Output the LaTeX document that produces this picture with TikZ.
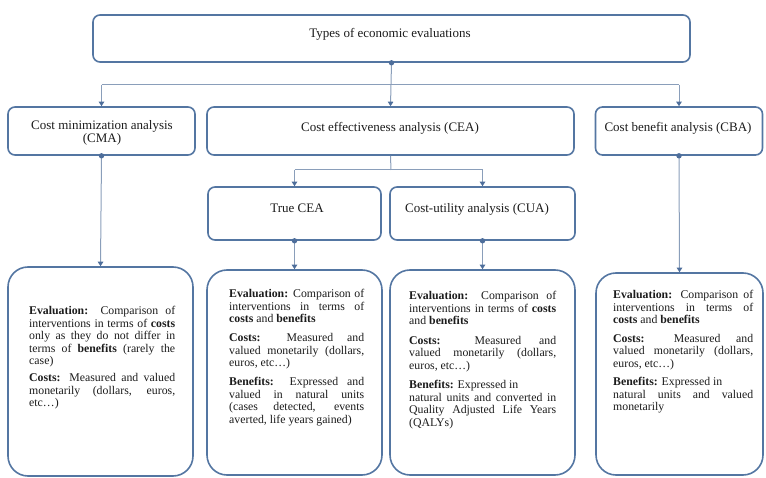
\documentclass[tikz,border=0pt]{standalone}
\usepackage{fontspec}
\setmainfont{Liberation Serif}
\usetikzlibrary{arrows.meta}
\definecolor{boxc}{RGB}{84,118,162}
\definecolor{connc}{RGB}{138,158,186}
\definecolor{tipc}{RGB}{78,110,155}
\definecolor{txtc}{RGB}{28,28,28}
\newcommand\mybody{\fontsize{11.8}{12.5}\selectfont\tolerance=10000\hyphenpenalty=10000\relax}
\tikzset{
  hbox/.style={draw=boxc, line width=1.6pt, rounded corners=7pt, fill=white, inner sep=0pt},
  bbox/.style={draw=boxc, line width=1.6pt, rounded corners=20pt, fill=white, inner sep=0pt},
  title/.style={text=txtc, font=\fontsize{13}{12.5}\selectfont, inner sep=0pt, anchor=base},
  body/.style={text=txtc, inner sep=0pt, anchor=base west},
  conn/.style={draw=connc, line width=1pt},
  arr/.style={conn, -{Triangle[width=5.5pt,length=4.5pt,color=tipc]}},
  dotc/.style={fill=tipc}
}
\begin{document}
\begin{tikzpicture}[x=1pt,y=-1pt]
\useasboundingbox (0,0) rectangle (766,478);
% boxes
\node[hbox, minimum width=597pt, minimum height=47pt] (top) at (391.5,38.5) {};
\node[hbox, minimum width=187pt, minimum height=48pt] (cma) at (101.5,131) {};
\node[hbox, minimum width=367pt, minimum height=48pt] (cea) at (390.5,131) {};
\node[hbox, minimum width=167pt, minimum height=48pt] (cba) at (679,131) {};
\node[hbox, minimum width=173pt, minimum height=53pt] (tcea) at (294.5,213.5) {};
\node[hbox, minimum width=185pt, minimum height=53pt] (cua) at (482.5,213.5) {};
\node[bbox, minimum width=185pt, minimum height=209pt] (b1) at (100.5,371.5) {};
\node[bbox, minimum width=175pt, minimum height=205pt] (b2) at (294.5,372.5) {};
\node[bbox, minimum width=185pt, minimum height=205pt] (b3) at (482.5,372.5) {};
\node[bbox, minimum width=167pt, minimum height=202pt] (b4) at (679.5,374) {};
% titles
\node[title] (ltop) at (390,37.5) {Types of economic evaluations};
\node[title] (lcma) at (102,130) {\parbox[t]{180pt}{\centering Cost minimization analysis\\(CMA)}};
\node[title] (lcea) at (390,131.5) {Cost effectiveness analysis (CEA)};
\node[title] (lcba) at (678,131.5) {Cost benefit analysis (CBA)};
\node[title] (ltcea) at (297,212.5) {True CEA};
\node[title] (lcua) at (477,212.5) {Cost-utility analysis (CUA)};
% connectors
\coordinate (bus) at (391,85);
\coordinate (split) at (391,170);
\draw[conn] (bus -| cma.north) -- (bus -| cba.north);
\draw[arr] (bus -| cma.north) -- (cma.north);
\draw[arr] (bus -| cba.north) -- (cba.north);
\draw[arr] (top.south) -- (cea.north);
\fill[dotc] (top.south) circle[radius=2.7pt];
\draw[conn] (cea.south) -- (split);
\draw[conn] (split -| tcea.north) -- (split -| cua.north);
\draw[arr] (split -| tcea.north) -- (tcea.north);
\draw[arr] (split -| cua.north) -- (cua.north);
\draw[arr] (cma.south) -- (b1.north);
\fill[dotc] (cma.south) circle[radius=2.7pt];
\draw[arr] (tcea.south) -- (b2.north);
\fill[dotc] (tcea.south) circle[radius=2.7pt];
\draw[arr] (cua.south) -- (b3.north);
\fill[dotc] (cua.south) circle[radius=2.7pt];
\draw[arr] (cba.south) -- (b4.north);
\fill[dotc] (cba.south) circle[radius=2.7pt];
% body texts
\node[body] (t1) at (29,315) {\parbox[t]{146pt}{\mybody
\textbf{Evaluation:} Comparison of\linebreak
interventions in terms of \textbf{costs}\linebreak
only as they do not differ in\linebreak
terms of \textbf{benefits} (rarely the\linebreak
case)\\[4.5pt]
\textbf{Costs:} Measured and valued\linebreak
monetarily (dollars, euros,\linebreak
etc…)}};
\node[body] (t2) at (229,298) {\parbox[t]{135pt}{\mybody
\textbf{Evaluation:} Comparison of\linebreak
interventions in terms of\linebreak
\textbf{costs} and \textbf{benefits}\\[6.5pt]
\textbf{Costs:} Measured and\linebreak
valued monetarily (dollars,\linebreak
euros, etc…)\\[6.5pt]
\textbf{Benefits:} Expressed and\linebreak
valued in natural units\linebreak
(cases detected, events\linebreak
averted, life years gained)}};
\node[body] (t3) at (409,300) {\parbox[t]{147pt}{\mybody
\textbf{Evaluation:} Comparison of\linebreak
interventions in terms of \textbf{costs}\linebreak
and \textbf{benefits}\\[7pt]
\textbf{Costs:} Measured and\linebreak
valued monetarily (dollars,\linebreak
euros, etc…)\\[7pt]
\textbf{Benefits:} Expressed in\\
natural units and converted in\linebreak
Quality Adjusted Life Years\linebreak
(QALYs)}};
\node[body] (t4) at (613,299) {\parbox[t]{140pt}{\mybody
\textbf{Evaluation:} Comparison of\linebreak
interventions in terms of\linebreak
\textbf{costs} and \textbf{benefits}\\[6pt]
\textbf{Costs:} Measured and\linebreak
valued monetarily (dollars,\linebreak
euros, etc…)\\[6pt]
\textbf{Benefits:} Expressed in\\
natural units and valued\linebreak
monetarily}};
\end{tikzpicture}
\end{document}
